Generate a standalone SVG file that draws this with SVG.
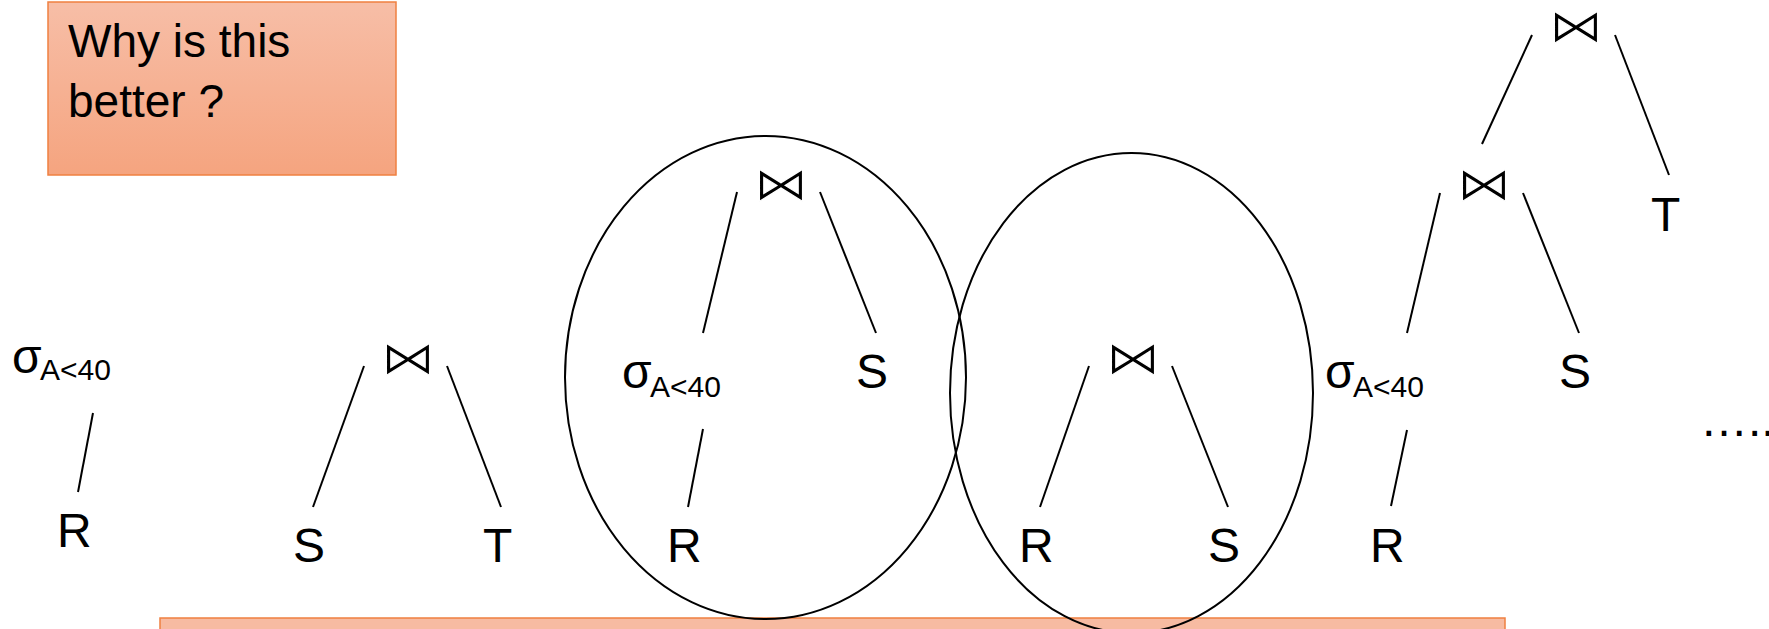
<svg xmlns="http://www.w3.org/2000/svg" width="1769" height="629" viewBox="0 0 1769 629">
<defs>
<linearGradient id="g1" x1="0" y1="0" x2="0" y2="1">
<stop offset="0" stop-color="#f7bea7"/>
<stop offset="1" stop-color="#f5a47f"/>
</linearGradient>
<style>
.t{font-family:"Liberation Sans",Arial,sans-serif;font-size:48px;fill:#000}
.sub{font-family:"Liberation Sans",Arial,sans-serif;font-size:30px;fill:#000}
.j{font-family:"DejaVu Sans",sans-serif;font-size:55px;fill:#000;stroke:#fff;stroke-width:1.4;text-anchor:middle}
.e{fill:none;stroke:#000;stroke-width:2}
.c line{stroke:#000;stroke-width:2}
</style>
</defs>
<rect width="1769" height="629" fill="#fff"/>
<g id="question">
<rect x="48" y="2" width="348" height="173" fill="url(#g1)" stroke="#ef8040" stroke-width="1.5"/>
<text x="68" y="57" style="font-family:'Liberation Sans',Arial,sans-serif;font-size:46px">Why is this</text>
<text x="68" y="117" style="font-family:'Liberation Sans',Arial,sans-serif;font-size:46px">better ?</text>
</g>
<g id="bottom-box">
<rect x="160" y="618" width="1345" height="20" fill="#f7bba2" stroke="#ef8040" stroke-width="1.5"/>
</g>
<g id="ellipses">
<ellipse id="ellipse1" class="e" cx="765.5" cy="377.5" rx="200.5" ry="241.5"/>
<ellipse id="ellipse2" class="e" cx="1131.5" cy="393" rx="181.5" ry="240"/>
</g>
<g id="nodes">
<g id="t1-sigma"><text class="t" x="12" y="373">σ</text><text class="sub" x="40" y="380">A&lt;40</text></g>
<g id="t1-R"><text class="t" x="57" y="547">R</text></g>
<g id="t2-join"><text class="j" transform="translate(408 374) scale(1 0.85)">⋈</text></g>
<g id="t2-S"><text class="t" x="293" y="562">S</text></g>
<g id="t2-T"><text class="t" x="483" y="562">T</text></g>
<g id="t3-join"><text class="j" transform="translate(781 200) scale(1 0.85)">⋈</text></g>
<g id="t3-sigma"><text class="t" x="622" y="388">σ</text><text class="sub" x="650" y="397">A&lt;40</text></g>
<g id="t3-S"><text class="t" x="856" y="388">S</text></g>
<g id="t3-R"><text class="t" x="667" y="562">R</text></g>
<g id="t4-join"><text class="j" transform="translate(1133 374) scale(1 0.85)">⋈</text></g>
<g id="t4-R"><text class="t" x="1019" y="562">R</text></g>
<g id="t4-S"><text class="t" x="1208" y="562">S</text></g>
<g id="t5-join-top"><text class="j" transform="translate(1576 42) scale(1 0.85)">⋈</text></g>
<g id="t5-T"><text class="t" x="1651" y="231">T</text></g>
<g id="t5-join-mid"><text class="j" transform="translate(1484 200) scale(1 0.85)">⋈</text></g>
<g id="t5-sigma"><text class="t" x="1325" y="388">σ</text><text class="sub" x="1353" y="397">A&lt;40</text></g>
<g id="t5-S"><text class="t" x="1559" y="388">S</text></g>
<g id="t5-R"><text class="t" x="1370" y="562">R</text></g>
<g id="dots"><text class="t" x="1700" y="436">…..</text></g>
</g>
<g id="connectors" class="c">
<line x1="93" y1="413" x2="78" y2="492"/>
<line x1="364" y1="366" x2="313" y2="507"/>
<line x1="447" y1="366" x2="501" y2="507"/>
<line x1="737" y1="192" x2="703" y2="333"/>
<line x1="820" y1="192" x2="876" y2="333"/>
<line x1="703" y1="429" x2="688" y2="507"/>
<line x1="1089" y1="366" x2="1040" y2="507"/>
<line x1="1172" y1="366" x2="1228" y2="507"/>
<line x1="1532" y1="35" x2="1482" y2="144"/>
<line x1="1615" y1="35" x2="1669" y2="175"/>
<line x1="1440" y1="193" x2="1407" y2="333"/>
<line x1="1523" y1="193" x2="1579" y2="333"/>
<line x1="1407" y1="430" x2="1391" y2="506"/>
</g>
</svg>
